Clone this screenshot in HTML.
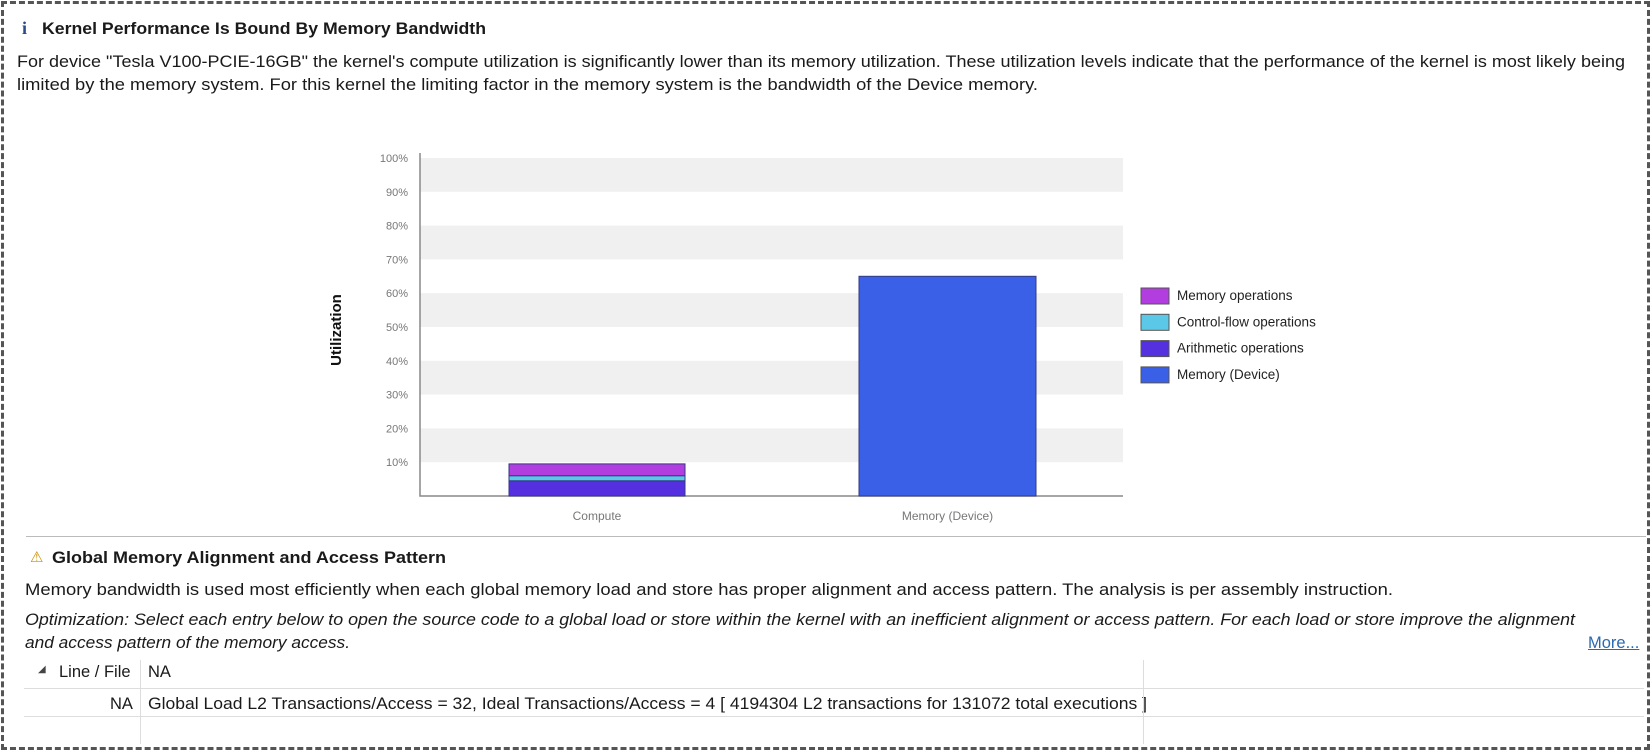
<!DOCTYPE html>
<html><head><meta charset="utf-8">
<style>
body{margin:0;width:1651px;height:751px;background:#fff;font-family:"Liberation Sans",sans-serif;color:#1a1a1a;position:relative;overflow:hidden}
.frame{position:absolute;left:1px;top:1px;width:1643px;height:743px;border:3px dashed #555}
.t{position:absolute;white-space:nowrap;font-size:16.5px;transform-origin:0 0}
.b{font-weight:bold;font-size:16.5px}
.i{font-style:italic}
.hl{position:absolute;height:1px;background:#ddd}
.vl{position:absolute;width:1px;background:#ddd}
</style></head><body>
<div class="frame"></div>
<div class="t" style="left:22px;top:18px;font-family:'Liberation Serif',serif;font-weight:bold;color:#2a4a8a;font-size:18px">i</div>
<div class="t b fit" data-w="444" style="left:42px;top:20px">Kernel Performance Is Bound By Memory Bandwidth</div>
<div class="t fit" data-w="1608" style="left:17px;top:53px">For device "Tesla V100-PCIE-16GB" the kernel's compute utilization is significantly lower than its memory utilization. These utilization levels indicate that the performance of the kernel is most likely being</div>
<div class="t fit" data-w="1021" style="left:17px;top:76px">limited by the memory system. For this kernel the limiting factor in the memory system is the bandwidth of the Device memory.</div>

<svg id="chart" style="position:absolute;left:0;top:0" width="1651" height="540"></svg>

<div class="hl" style="left:26px;top:536px;width:1620px;background:#bbb"></div>
<div class="t" style="left:30px;top:548px;color:#c89000;font-size:15px">⚠</div>
<div class="t b fit" data-w="394" style="left:52px;top:549px">Global Memory Alignment and Access Pattern</div>
<div class="t fit" data-w="1368" style="left:25px;top:581px">Memory bandwidth is used most efficiently when each global memory load and store has proper alignment and access pattern. The analysis is per assembly instruction.</div>
<div class="t i fit" data-w="1550" style="left:25px;top:611px">Optimization: Select each entry below to open the source code to a global load or store within the kernel with an inefficient alignment or access pattern. For each load or store improve the alignment</div>
<div class="t i fit" data-w="325" style="left:25px;top:634px">and access pattern of the memory access.</div>
<div class="t" style="left:1588px;top:634px;color:#2a6ab0;text-decoration:underline">More...</div>

<div class="t" style="left:38px;top:664px;font-size:10px;color:#444">◢</div>
<div class="t" style="left:59px;top:663px">Line / File</div>
<div class="t" style="left:148px;top:663px">NA</div>
<div class="hl" style="left:24px;top:688px;width:1620px"></div>
<div class="t" style="left:110px;top:695px">NA</div>
<div class="t fit" data-w="999" style="left:148px;top:695px">Global Load L2 Transactions/Access = 32, Ideal Transactions/Access = 4 [ 4194304 L2 transactions for 131072 total executions ]</div>
<div class="hl" style="left:24px;top:716px;width:1620px"></div>
<div class="vl" style="left:140px;top:660px;height:84px"></div>
<div class="vl" style="left:1143px;top:660px;height:84px"></div>

<script>
const categories=["Compute","Memory (Device)"];
const seriesNames=["Memory operations","Control-flow operations","Arithmetic operations","Memory (Device)"];
const seriesColors=["#b23ee0","#5cc8e8","#5530e0","#3a60e8"];
const arithmetic=[4.5,0];
const controlFlow=[1.5,0];
const memoryOps=[3.5,0];
const memoryDevice=[0,65];
const yTicks=[10,20,30,40,50,60,70,80,90,100];

document.querySelectorAll('.fit').forEach(el=>{
  const w=el.getBoundingClientRect().width;
  el.style.transform='scaleX('+(parseFloat(el.dataset.w)/w)+')';
});

const NS="http://www.w3.org/2000/svg";
const svg=document.getElementById("chart");
const X0=420,X1=1123,Y0=496,Y1=158;
const y=v=>Y0-(v/100)*(Y0-Y1);
const barLeft=[509,859],barW=[176,177];
function mk(tag,attrs){const e=document.createElementNS(NS,tag);for(const k in attrs)e.setAttribute(k,attrs[k]);svg.appendChild(e);return e;}
for(let k=0;k<10;k+=2){
  const r=mk("rect",{x:X0,y:y(100-k*10),width:X1-X0,height:y(90-k*10)-y(100-k*10),fill:"#f0f0f0"});
  
  
}
yTicks.forEach(t=>{
  const tx=mk("text",{x:X0-12,y:y(t)+4,"text-anchor":"end","font-size":"11","fill":"#777","font-family":"Liberation Sans, sans-serif"});
  tx.textContent=t+"%";
  
  
});
const ax=mk("path",{d:`M${X0} ${Y1-5}V${Y0}H${X1}`,stroke:"#888",fill:"none","stroke-width":"1.5"});


const yt=mk("text",{x:0,y:0,transform:`translate(341,${(Y0+Y1)/2+3}) rotate(-90)`,"text-anchor":"middle","font-size":"15","font-weight":"bold","font-family":"Liberation Sans, sans-serif",fill:"#111"});
yt.textContent="Utilization";


const stacks=[[arithmetic,2],[controlFlow,1],[memoryOps,0],[memoryDevice,3]];
categories.forEach((c,i)=>{
  let base=0;
  stacks.forEach(([arr,ci])=>{
    const v=arr[i]; if(v<=0)return;
    const r=mk("rect",{x:barLeft[i],y:y(base+v),width:barW[i],height:y(base)-y(base+v),fill:seriesColors[ci],stroke:"#333a80","stroke-width":"1"});
    
    
    base+=v;
  });
  const l=mk("text",{x:barLeft[i]+barW[i]/2,y:Y0+24,"text-anchor":"middle","font-size":"12","fill":"#777","font-family":"Liberation Sans, sans-serif"});
  l.textContent=c;
  
  
});
seriesNames.forEach((n,i)=>{
  const cy=296+i*26.3;
  const s=mk("rect",{x:1141,y:cy-8,width:28,height:16,fill:seriesColors[i],stroke:"#555","stroke-width":"1"});
  
  
  const t=mk("text",{x:1177,y:cy+4,"font-size":"13.5",fill:"#222","font-family":"Liberation Sans, sans-serif"});
  t.textContent=n;
  
  
});
</script>
</body></html>
